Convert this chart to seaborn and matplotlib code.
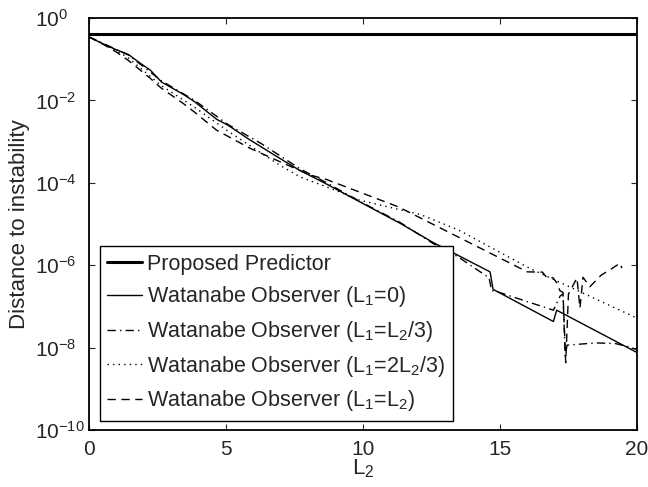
import numpy as np
import pandas as pd
import matplotlib
matplotlib.use("Agg")
import matplotlib.pyplot as plt
import seaborn as sns

sns.set_style("ticks")
plt.rcParams['font.family'] = ['Liberation Sans', 'DejaVu Sans']
plt.rcParams.update({'mathtext.fontset': 'custom',
                     'mathtext.rm': 'Liberation Sans',
                     'mathtext.it': 'Liberation Sans:italic',
                     'mathtext.default': 'regular',
                     'font.size': 15})

# values (x = L2, y = distance to instability)
pred_x = [0, 20]
pred_y = [4.0e-1, 4.0e-1]

w0_x = [0, 0.5, 1.0, 1.45, 1.8, 2.25, 2.65, 3.45, 3.86, 4.66, 5.08, 5.88, 7.09,
        7.7, 8.68, 9.87, 11.35, 12.55, 14.64, 14.75, 16.95, 17.07, 20]
w0_y = [3.5e-1, 2.4e-1, 1.7e-1, 1.3e-1, 8.7e-2, 5.4e-2, 2.8e-2, 1.4e-2, 9.3e-3,
        3.5e-3, 2.5e-3, 1.1e-3, 3.5e-4, 2.0e-4, 9.3e-5, 3.5e-5, 1.05e-5, 3.6e-6,
        6.9e-7, 2.6e-7, 4.3e-8, 8.1e-8, 7.6e-9]

w13_x = [0, 1.45, 2.65, 3.86, 5.08, 6.3, 7.7, 8.68, 9.87, 11.35, 12.55, 13.47,
         14.45, 14.6, 14.7, 14.88, 16.95, 17.2, 17.3, 17.38, 17.45, 18.5, 19.2,
         19.7, 20]
w13_y = [3.5e-1, 1.26e-1, 3.0e-2, 1.0e-2, 2.6e-3, 8.9e-4, 2.2e-4, 1.0e-4, 3.6e-5,
         1.1e-5, 3.4e-6, 1.6e-6, 5.8e-7, 5.0e-7, 2.4e-7, 2.3e-7, 8.1e-8, 1.8e-7,
         2.0e-7, 6.3e-9, 1.15e-8, 1.3e-8, 1.26e-8, 1.05e-8, 8.9e-9]

w23_x = [0, 1.0, 1.43, 2.64, 3.86, 5.08, 6.3, 7.0, 7.7, 9.16, 9.87, 12.1, 13.5,
         16.1, 17.4, 20]
w23_y = [3.5e-1, 1.6e-1, 1.1e-1, 2.3e-2, 6.8e-3, 1.8e-3, 5.2e-4, 2.6e-4, 1.4e-4,
         6.0e-5, 3.8e-5, 1.7e-5, 7.1e-6, 8.3e-7, 3.3e-7, 5.2e-8]

w1_x = [0, 0.58, 1.0, 1.43, 2.23, 2.64, 3.44, 3.86, 4.66, 5.88, 7.09, 8.07, 8.68,
        11.3, 16.0, 16.55, 16.72, 16.93, 17.08, 17.19, 17.3, 17.4, 17.5, 17.81,
        17.92, 18.03, 18.28, 18.7, 19.0, 19.38, 19.45]
w1_y = [3.5e-1, 2.2e-1, 1.5e-1, 9.5e-2, 3.5e-2, 2.0e-2, 8.5e-3, 5.2e-3, 1.9e-3,
        6.9e-4, 3.0e-4, 1.55e-4, 1.2e-4, 2.6e-5, 6.9e-7, 6.8e-7, 4.9e-7, 5.0e-7,
        3.7e-7, 2.4e-7, 2.2e-7, 4.3e-9, 2.0e-7, 4.9e-7, 9.1e-8, 5.1e-7, 3.0e-7,
        5.8e-7, 7.6e-7, 1.12e-6, 8.5e-7]

labels = ["Proposed Predictor",
          "Watanabe Observer (L$_1$=0)",
          "Watanabe Observer (L$_1$=L$_2$/3)",
          "Watanabe Observer (L$_1$=2L$_2$/3)",
          "Watanabe Observer (L$_1$=L$_2$)"]

series = [(pred_x, pred_y, '-', 2.2),
          (w0_x, w0_y, '-', 1.0),
          (w13_x, w13_y, (0, (6, 3, 1, 3)), 1.0),
          (w23_x, w23_y, (0, (1, 3)), 1.0),
          (w1_x, w1_y, (0, (6, 4)), 1.0)]

fig, ax = plt.subplots(figsize=(6.48, 4.87), dpi=100)
fig.subplots_adjust(left=0.137, right=0.983, top=0.963, bottom=0.117)

for (xs, ys, ls, lw), lab in zip(series, labels):
    sns.lineplot(x=xs, y=ys, ax=ax, color='black', linestyle=ls, lw=lw,
                 label=lab, sort=False, estimator=None)

ax.set_yscale('log')
ax.set_xlim(0, 20)
ax.set_ylim(1e-10, 1)
ax.set_xticks([0, 5, 10, 15, 20])
ax.set_yticks([1e-10, 1e-8, 1e-6, 1e-4, 1e-2, 1e0])
ax.minorticks_off()
ax.tick_params(direction='in', top=True, right=True, length=4, width=0.8,
               labelsize=15)
ax.tick_params(axis='x', pad=7)
# MATLAB-like left aligned y tick labels
ax.tick_params(axis='y', pad=39)
for lbl in ax.get_yticklabels():
    lbl.set_horizontalalignment('left')
for s in ax.spines.values():
    s.set_linewidth(1.3)
    s.set_color('black')

ax.set_xlabel("L$_2$", fontsize=16, labelpad=-1)
ax.set_ylabel("Distance to instability", fontsize=16, labelpad=3)

leg = ax.legend(loc='lower left', bbox_to_anchor=(0.02, 0.022), borderaxespad=0,
                fontsize=15.5, frameon=True, fancybox=False, edgecolor='black',
                framealpha=1, handlelength=1.6, handletextpad=0.25,
                labelspacing=0.45, borderpad=0.35)
leg.get_frame().set_linewidth(1.0)

fig.savefig("out.png", dpi=100)
